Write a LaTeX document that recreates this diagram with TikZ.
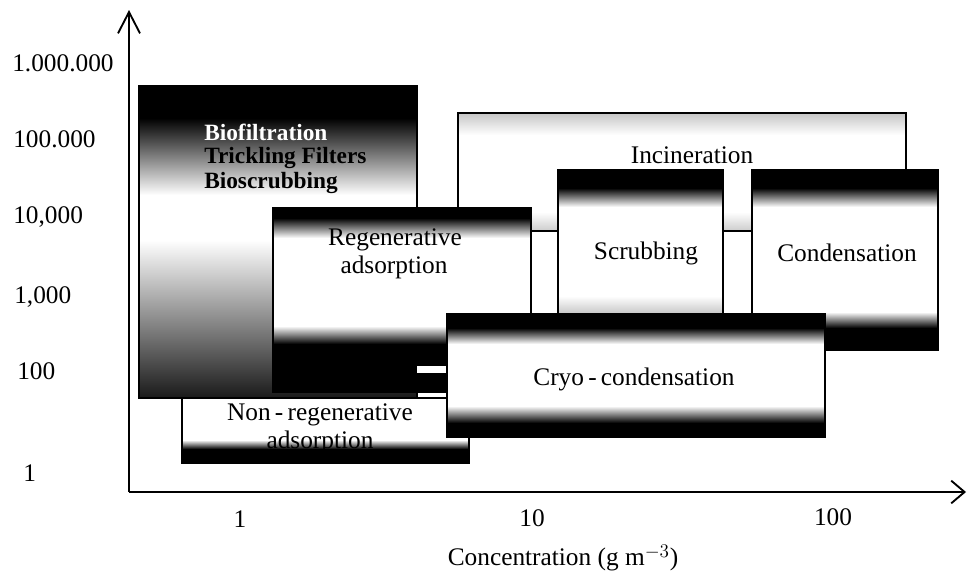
\documentclass[tikz,border=0pt]{standalone}
\usepackage{fontspec}
\setmainfont{Liberation Serif}
\usetikzlibrary{arrows.meta,fit}
\colorlet{boxtop}{black}
\colorlet{boxbot}{black}
% #1 x1, #2 y1 (top), #3 x2, #4 y2 (bottom), #5 end of top solid, #6 end of top fade,
% #7 start of bottom fade, #8 start of bottom solid, #9 node name
\newcommand\gradbox[9]{%
  \fill[white] (#1,#2) rectangle (#3,#4);
  \fill[boxtop] (#1,#2) rectangle (#3,#5);
  \shade[top color=boxtop,bottom color=white] (#1,#5) rectangle (#3,#6);
  \shade[top color=white,bottom color=boxbot] (#1,#7) rectangle (#3,#8);
  \fill[boxbot] (#1,#8) rectangle (#3,#4);
  \node[frame, fit={(#1,#2)(#3,#4)}] (#9) {};
}
\tikzset{
  frame/.style={draw=black, line width=1.3pt, inner sep=0pt},
  lbl/.style={font=\fontsize{19}{22}\selectfont, inner sep=0pt},
  biolbl/.style={font=\fontsize{17.5}{20}\selectfont\bfseries, inner sep=0pt, anchor=west},
  tick/.style={font=\fontsize{19}{22}\selectfont, inner sep=0pt, anchor=west},
  axisline/.style={line width=1.4pt},
}
\begin{document}
\begin{tikzpicture}[x=0.75pt,y=-0.75pt]
\useasboundingbox (0,0) rectangle (967,571);

% Biofiltration box
\colorlet{boxtop}{black}\colorlet{boxbot}{black!90}
\gradbox{139}{86}{417}{398}{118}{195}{240}{398}{bio}
\node[biolbl, text=white] (biot1) at (204,132) {Biofiltration};
\node[biolbl] (biot2) at (204,158) {Trickling Filters};
\node[biolbl] (biot3) at (204,183) {Bioscrubbing};

% Incineration box
\colorlet{boxtop}{gray!45}\colorlet{boxbot}{gray!40}
\gradbox{458}{113}{906}{231}{113}{135}{212}{231}{incin}
\node[lbl] (incint) at (692,155) {Incineration};

% Regenerative adsorption box
\colorlet{boxtop}{black}\colorlet{boxbot}{black}
\gradbox{273}{208}{531}{392}{218}{238}{326}{344}{regen}
\node[lbl] (regent1) at (395,240) {Regenerative};
\node[lbl] (regent2) at (394,267) {adsorption};
\fill[white] (417,366) rectangle (446,373);

% Scrubbing box
\colorlet{boxtop}{black}\colorlet{boxbot}{gray!45}
\gradbox{558}{170}{723}{314}{188}{207}{296}{314}{scrub}
\node[lbl] (scrubt) at (646,253) {Scrubbing};

% Condensation box
\colorlet{boxtop}{black}\colorlet{boxbot}{black}
\gradbox{752}{170}{938}{350}{188}{207}{312}{328}{cond}
\node[lbl] (condt) at (847,253) {Condensation};

% Non-regenerative adsorption box
\colorlet{boxtop}{white}\colorlet{boxbot}{black}
\gradbox{182}{398}{469}{463}{398}{400}{440}{449}{nonreg}
\node[lbl] (nonregt1) at (320,415) {Non{\,}-{\,}regenerative};
\node[lbl] (nonregt2) at (320,442) {adsorption};

% Cryo-condensation box
\colorlet{boxtop}{black}\colorlet{boxbot}{black}
\gradbox{447}{314}{825}{437}{328}{344}{406}{423}{cryo}
\node[lbl] (cryot) at (634,379) {Cryo{\,}-{\,}condensation};

% Axes
\coordinate (O) at (129,492);
\coordinate (ytop) at (129,10);
\coordinate (xend) at (966,492);
\draw[axisline, -{Straight Barb[length=16pt,width=16.5pt,line width=1.4pt]}] (O) -- (ytop);
\draw[axisline, -{Straight Barb[length=10pt,width=17pt,line width=1.4pt]}] (O) -- (xend);

% Tick labels
\node[tick] (y6) at (12,63) {1.000.000};
\node[tick] (y5) at (13,139) {100.000};
\node[tick] (y4) at (13,217) {10,000};
\node[tick] (y3) at (14,297) {1,000};
\node[tick] (y2) at (17,371) {100};
\node[tick] (y0) at (23,473) {1};
\node[lbl] (x0) at (240,519) {1};
\node[lbl] (x1) at (532,518) {10};
\node[lbl] (x2) at (833,517) {100};
\node[lbl] (xlab) at (563,558) {Concentration (g m$^{-3}$)};
\end{tikzpicture}
\end{document}
